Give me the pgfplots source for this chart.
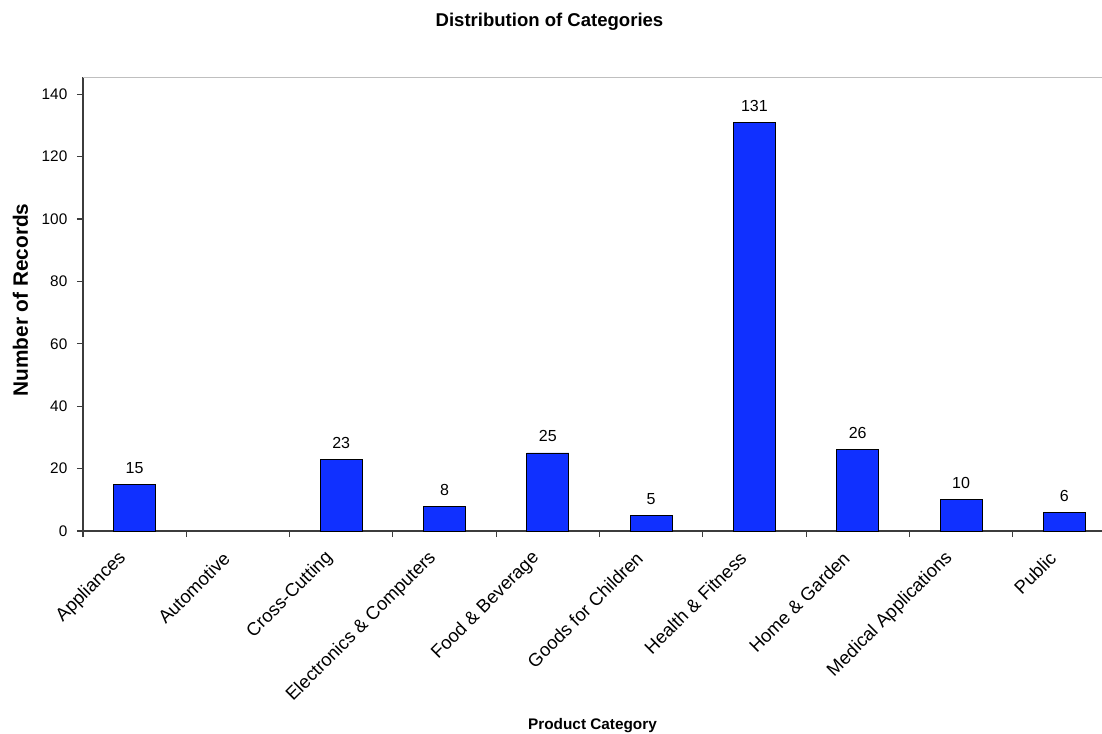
\documentclass[border=0pt]{standalone}
\usepackage{fontspec}
\setmainfont{Liberation Sans}
\usepackage{pgfplots}
\pgfplotsset{compat=1.18}

\definecolor{barblue}{RGB}{16,48,255}
\definecolor{axisgray}{RGB}{60,60,60}

% record counts per product category (Automotive has none)
\pgfplotstableread{
x  n
0  15
2  23
3  8
4  25
5  5
6  131
7  26
8  10
9  6
}\counts

\begin{document}
\begin{tikzpicture}
\useasboundingbox (0pt,0pt) rectangle (826.5pt,549.75pt);
\begin{axis}[
  at={(62.25pt,151.5pt)}, anchor=south west,
  scale only axis, width=764.25pt, height=340.5pt,
  xmin=-0.5, xmax=9.365, ymin=0, ymax=145.5,
  axis lines*=left,
  axis line style={axisgray, line width=0.9pt},
  tick align=outside,
  major tick length=4.5pt,
  tick style={axisgray, line width=0.8pt},
  /pgf/number format/assume math mode=true,
  ytick={0,20,...,140},
  yticklabel style={font=\fontsize{11.5}{13}\selectfont, xshift=-3.75pt},
  xtick={-0.5,0.5,...,8.5},
  xticklabels={},
  extra x ticks={0,1,2,3,4,5,6,7,8,9},
  extra x tick labels={Appliances, Automotive, Cross-Cutting,
    Electronics \& Computers, Food \& Beverage, Goods for Children,
    Health \& Fitness, Home \& Garden, Medical Applications, Public},
  extra x tick style={major tick length=0pt,
    tick label style={xshift=-8.5pt, yshift=-18pt, rotate=45,
      anchor=east, inner sep=0pt,
      font=\fontsize{13.8}{16}\selectfont}},
  ybar, bar width=0.406,
  nodes near coords,
  nodes near coords style={font=\fontsize{12}{14}\selectfont,
    anchor=base, yshift=8.25pt, text=black},
  title={Distribution of Categories},
  title style={at={(axis description cs:0.4578,1.0946)}, anchor=base,
    font=\bfseries\fontsize{13.9}{16}\selectfont},
  xlabel={Product Category},
  xlabel style={at={(axis description cs:0.5,-0.438)}, anchor=base,
    font=\bfseries\fontsize{11.5}{13}\selectfont},
  ylabel={Number of Records},
  ylabel style={at={(axis description cs:-0.0613,0.509)}, anchor=center,
    font=\bfseries\fontsize{15.6}{18}\selectfont},
]
\addplot[fill=barblue, draw=black, line width=0.6pt] table[x=x, y=n] {\counts};
\draw[black!25, line width=0.8pt] (rel axis cs:0,1) -- (rel axis cs:1,1);
\end{axis}
\end{tikzpicture}
\end{document}
